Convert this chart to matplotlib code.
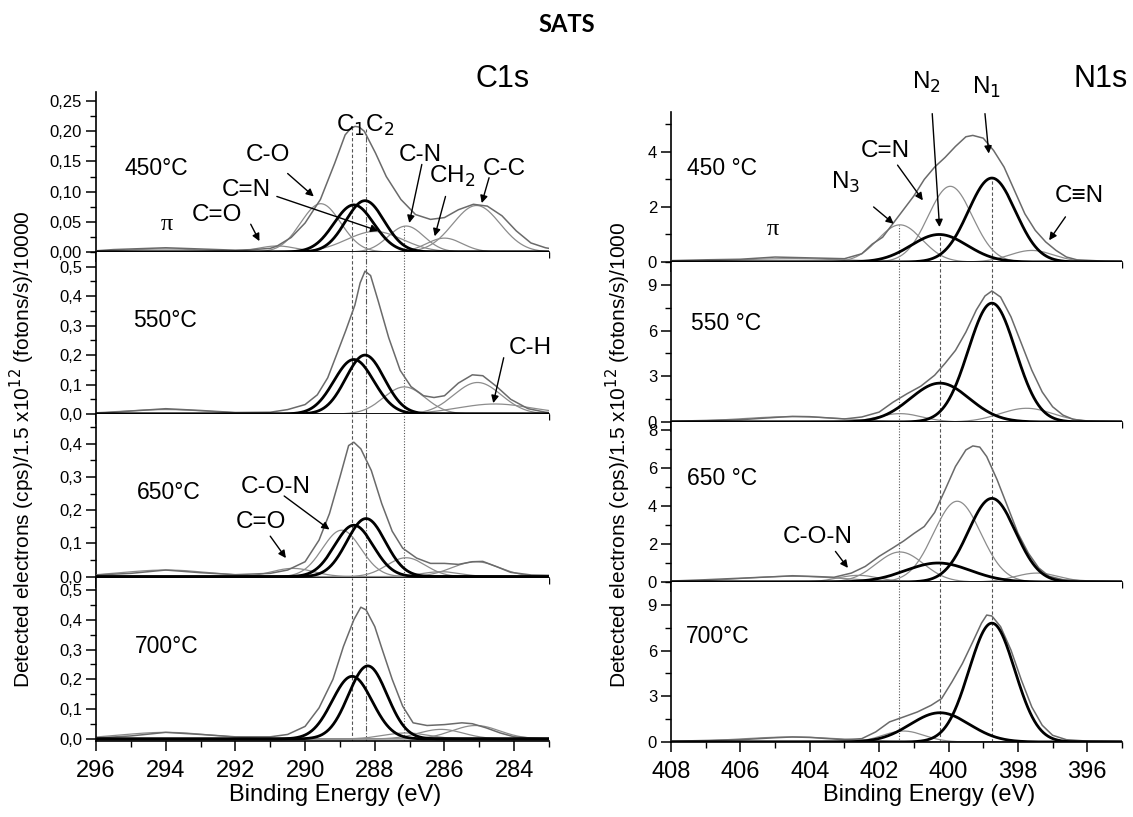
import numpy as np
import matplotlib
matplotlib.use("Agg")
import matplotlib.pyplot as plt
from matplotlib.ticker import MultipleLocator, FuncFormatter

plt.rcParams['font.family'] = ['Liberation Sans', 'DejaVu Sans']

c450_x = [296.0, 295.5, 295.0, 294.5, 294.0, 293.5, 293.0, 292.5, 292.0, 291.5, 291.0, 290.8, 290.4,
          290.0, 289.56, 289.15, 288.85, 288.7, 288.57, 288.45, 288.3, 287.98, 287.67, 287.25, 286.83,
          286.4, 286.0, 285.6, 285.17, 284.77, 284.35, 283.94, 283.52, 283.1, 283.0]
c450_y = [0.002, 0.004, 0.005, 0.006, 0.007, 0.006, 0.005, 0.004, 0.003, 0.004, 0.006, 0.010, 0.024,
          0.048, 0.087, 0.147, 0.194, 0.204, 0.208, 0.207, 0.200, 0.164, 0.125, 0.087, 0.062,
          0.054, 0.057, 0.070, 0.079, 0.076, 0.060, 0.035, 0.015, 0.007, 0.006]
c550_x = [296, 295, 294, 293, 292, 291, 290.5, 290.0, 289.65, 289.35, 289.1, 288.83, 288.57, 288.42,
          288.28, 288.12, 287.9, 287.6, 287.27, 286.96, 286.6, 286.3, 286.0, 285.6, 285.2, 284.9,
          284.5, 284.1, 283.6, 283.1, 283.0]
c550_y = [0.002, 0.010, 0.018, 0.012, 0.005, 0.006, 0.015, 0.032, 0.065, 0.123, 0.200, 0.284, 0.370,
          0.445, 0.485, 0.470, 0.383, 0.259, 0.148, 0.093, 0.062, 0.056, 0.062, 0.105, 0.133, 0.130,
          0.093, 0.050, 0.018, 0.006, 0.005]
c650_x = [296, 295, 294, 293, 292, 291, 290.5, 290.0, 289.6, 289.3, 289.0, 288.75, 288.6, 288.4, 288.1,
          287.8, 287.5, 287.2, 286.8, 286.4, 286.0, 285.6, 285.2, 284.9, 284.5, 284.1, 283.5, 283.0]
c650_y = [0.005, 0.010, 0.020, 0.012, 0.006, 0.010, 0.020, 0.045, 0.110, 0.190, 0.300, 0.395, 0.405,
          0.385, 0.320, 0.220, 0.137, 0.086, 0.056, 0.040, 0.040, 0.037, 0.045, 0.046, 0.030, 0.013,
          0.005, 0.004]
c700_x = [296, 295, 294, 293, 292, 291, 290.5, 290.0, 289.6, 289.2, 288.9, 288.6, 288.4, 288.25, 288.0,
          287.8, 287.5, 287.2, 286.9, 286.5, 286.0, 285.5, 285.2, 284.8, 284.4, 284.0, 283.5, 283.0]
c700_y = [0.003, 0.010, 0.022, 0.015, 0.007, 0.007, 0.015, 0.042, 0.104, 0.200, 0.310, 0.400, 0.442,
          0.433, 0.377, 0.305, 0.200, 0.110, 0.054, 0.045, 0.048, 0.054, 0.051, 0.037, 0.020, 0.007,
          0.003, 0.002]

# fitted components: centre (eV), height, fwhm (eV), bold (C1, C2)
c450_cen = [294.0, 290.8, 289.55, 288.6, 288.28, 288.0, 287.1, 286.0, 285.08]
c450_amp = [0.005, 0.010, 0.080, 0.078, 0.085, 0.034, 0.043, 0.023, 0.077]
c450_fwhm = [3.0, 1.3, 1.35, 1.35, 1.3, 1.9, 1.2, 1.2, 1.6]
c450_bold = [0, 0, 0, 1, 1, 0, 0, 0, 0]
c550_cen = [294.0, 288.6, 288.28, 287.15, 285.05, 284.55]
c550_amp = [0.015, 0.185, 0.200, 0.092, 0.107, 0.034]
c550_fwhm = [3.0, 1.35, 1.3, 1.4, 1.6, 2.5]
c550_bold = [0, 1, 1, 0, 0, 0]
c650_cen = [294.0, 290.35, 288.95, 288.6, 288.25, 287.1, 286.1, 285.1]
c650_amp = [0.02, 0.025, 0.14, 0.155, 0.175, 0.057, 0.015, 0.045]
c650_fwhm = [3.0, 1.4, 1.3, 1.3, 1.3, 1.3, 1.3, 1.6]
c650_bold = [0, 0, 0, 1, 1, 0, 0, 0]
c700_cen = [294.0, 288.65, 288.2, 287.1, 286.1, 285.1]
c700_amp = [0.022, 0.21, 0.245, 0.02, 0.032, 0.045]
c700_fwhm = [3.0, 1.35, 1.3, 1.5, 1.5, 1.6]
c700_bold = [0, 1, 1, 0, 0, 0]

# ---------------- N1s measured spectra ----------------
n450_x = [408, 407, 406, 405, 404, 403, 402.5, 402.2, 401.9, 401.6, 401.3, 401.0, 400.7, 400.4, 400.1,
          399.8, 399.5, 399.3, 399.0, 398.7, 398.4, 398.1, 397.8, 397.5, 397.2, 396.9, 396.6, 396.3,
          395.5, 395.0]
n450_y = [0.05, 0.08, 0.10, 0.18, 0.15, 0.12, 0.30, 0.65, 0.90, 1.40, 1.90, 2.40, 3.00, 3.45, 3.80,
          4.20, 4.55, 4.60, 4.50, 4.05, 3.45, 2.60, 1.75, 1.15, 0.73, 0.42, 0.18, 0.08, 0.03, 0.02]
n550_x = [408, 407, 406, 405, 404.5, 404, 403, 402.5, 402.0, 401.6, 401.2, 400.8, 400.4, 400.1, 399.8,
          399.5, 399.2, 398.95, 398.75, 398.5, 398.2, 397.9, 397.6, 397.3, 397.0, 396.7, 396.4, 396.0,
          395.0]
n550_y = [0.05, 0.10, 0.15, 0.30, 0.37, 0.35, 0.20, 0.33, 0.65, 1.30, 1.85, 2.35, 3.07, 3.85, 4.70,
          5.90, 7.35, 8.27, 8.60, 8.20, 6.90, 5.15, 3.40, 1.97, 1.00, 0.45, 0.17, 0.07, 0.03]
n650_x = [408, 407, 406, 405, 404.5, 404, 403.3, 402.8, 402.4, 402.0, 401.6, 401.3, 401.0, 400.7, 400.4,
          400.1, 399.8, 399.5, 399.3, 399.1, 398.9, 398.6, 398.3, 398.0, 397.7, 397.4, 397.1, 396.7,
          396.0, 395.0]
n650_y = [0.05, 0.12, 0.20, 0.28, 0.33, 0.30, 0.25, 0.47, 0.82, 1.35, 1.80, 2.15, 2.55, 2.92, 3.66,
          4.85, 6.08, 6.95, 7.16, 7.10, 6.60, 5.38, 3.98, 2.57, 1.52, 0.74, 0.30, 0.12, 0.06, 0.03]
n700_x = [408, 407, 406, 405, 404.5, 404, 403, 402.5, 402.1, 401.7, 401.3, 400.9, 400.5, 400.2, 399.9,
          399.6, 399.3, 399.05, 398.9, 398.75, 398.5, 398.2, 397.9, 397.6, 397.3, 397.0, 396.6, 396.0,
          395.0]
n700_y = [0.05, 0.10, 0.15, 0.28, 0.33, 0.30, 0.15, 0.22, 0.66, 1.32, 1.64, 1.97, 2.41, 2.85, 3.95,
          5.15, 6.58, 7.80, 8.33, 8.27, 7.57, 6.03, 4.06, 2.30, 1.10, 0.44, 0.15, 0.06, 0.03]

n450_cen = [404.5, 401.4, 400.27, 399.95, 398.75, 397.6]
n450_amp = [0.12, 1.35, 1.0, 2.75, 3.05, 0.42]
n450_fwhm = [4.0, 1.5, 1.9, 1.5, 1.6, 1.5]
n450_bold = [0, 0, 1, 0, 1, 0]
n550_cen = [404.5, 401.4, 400.25, 398.75, 397.75]
n550_amp = [0.35, 0.55, 2.55, 7.8, 0.9]
n550_fwhm = [3.5, 1.5, 2.0, 1.6, 1.8]
n550_bold = [0, 0, 1, 1, 0]
n650_cen = [404.5, 402.6, 401.4, 400.3, 399.75, 398.75, 397.45]
n650_amp = [0.3, 0.35, 1.58, 1.0, 4.25, 4.4, 0.47]
n650_fwhm = [3.5, 1.4, 1.6, 2.2, 1.6, 1.6, 1.5]
n650_bold = [0, 0, 0, 1, 0, 1, 0]
n700_cen = [404.5, 401.3, 400.25, 398.75]
n700_amp = [0.33, 0.72, 1.92, 7.8]
n700_fwhm = [3.5, 1.4, 2.0, 1.55]
n700_bold = [0, 0, 1, 1]

# reference lines (eV) and where they start in the top panel
c_vlines = [288.66, 288.26, 287.15]
c_vtop = [0.205, 0.203, 0.043]
n_vlines = [401.42, 400.26, 398.76]
n_vtop = [1.35, 1.0, 3.05]
c_temps = ['450°C', '550°C', '650°C', '700°C']
n_temps = ['450 °C', '550 °C', '650 °C', '700°C']

W, H = 1133, 817
fig = plt.figure(figsize=(W / 100, H / 100), dpi=100)


def rect(x0, x1, top, bot):
    return [x0 / W, 1 - bot / H, (x1 - x0) / W, (bot - top) / H]


def gauss(x, c, a, w):
    return a * np.exp(-4 * np.log(2) * (x - c) ** 2 / w ** 2)


GREY = '#8c8c8c'
VSTY = {'dash': (0, (3, 2)), 'dashdot': (0, (5, 1.5, 1, 1.5)), 'dot': (0, (1, 1.5))}


def panel(r, xlim, ylim, mx, my, cen, amp, fwhm, bold, vl, vst, vtop, ymaj, fmt, last):
    ax = fig.add_axes(r)
    xs = np.linspace(min(xlim), max(xlim), 800)
    for c, a, w, b in zip(cen, amp, fwhm, bold):
        if b:
            ax.plot(xs, gauss(xs, c, a, w), color='black', lw=2.0, zorder=4)
        else:
            ax.plot(xs, gauss(xs, c, a, w), color=GREY, lw=0.9, zorder=2)
    ax.plot(mx, my, color='#6a6a6a', lw=1.1, zorder=3)
    for i, v in enumerate(vl):
        top = vtop[i] if vtop is not None else ylim[1]
        ax.plot([v, v], [ylim[0], top], color='#555555', lw=0.8, ls=VSTY[vst[i]], zorder=1)
    ax.set_xlim(*xlim)
    ax.set_ylim(*ylim)
    for s in ('top', 'right'):
        ax.spines[s].set_visible(False)
    for s in ('left', 'bottom'):
        ax.spines[s].set_linewidth(1.2)
    ax.xaxis.set_major_locator(MultipleLocator(2))
    ax.xaxis.set_minor_locator(MultipleLocator(1))
    ax.yaxis.set_major_locator(MultipleLocator(ymaj))
    ax.yaxis.set_minor_locator(MultipleLocator(ymaj / 2))
    ax.yaxis.set_major_formatter(FuncFormatter(fmt))
    ax.tick_params(which='major', direction='out', length=7, width=1.1)
    ax.tick_params(which='minor', direction='out', length=4, width=1.0)
    ax.tick_params(axis='y', labelsize=12, pad=3)
    ax.tick_params(axis='x', labelsize=17, pad=7, labelbottom=last)
    return ax


f2 = lambda v, p: ('%.2f' % v).replace('.', ',')
f1 = lambda v, p: ('%.1f' % v).replace('.', ',')
fi = lambda v, p: '%d' % round(v)

c_rows = [(92, 252), (252, 414), (414, 578), (578, 741)]
n_rows = [(112, 262), (262, 422), (422, 582), (582, 742)]
c_ylims = [(0, 0.265), (0, 0.55), (-0.004, 0.49), (-0.007, 0.54)]
n_ylims = [(0, 5.45), (0, 10.5), (0, 8.42), (0, 10.5)]
c_ymaj = [0.05, 0.1, 0.1, 0.1]
n_ymaj = [2, 3, 2, 3]
c_data = [(c450_x, c450_y, c450_cen, c450_amp, c450_fwhm, c450_bold),
          (c550_x, c550_y, c550_cen, c550_amp, c550_fwhm, c550_bold),
          (c650_x, c650_y, c650_cen, c650_amp, c650_fwhm, c650_bold),
          (c700_x, c700_y, c700_cen, c700_amp, c700_fwhm, c700_bold)]
n_data = [(n450_x, n450_y, n450_cen, n450_amp, n450_fwhm, n450_bold),
          (n550_x, n550_y, n550_cen, n550_amp, n550_fwhm, n550_bold),
          (n650_x, n650_y, n650_cen, n650_amp, n650_fwhm, n650_bold),
          (n700_x, n700_y, n700_cen, n700_amp, n700_fwhm, n700_bold)]
c_temp_pos = [(295.19, 0.128), (294.93, 0.296), (294.82, 0.233), (294.875, 0.288)]
n_temp_pos = [(407.53, 3.15), (407.42, 6.03), (407.53, 5.11), (407.58, 6.47)]

cax, nax = [], []
for i in range(4):
    a = panel(rect(96, 549, *c_rows[i]), (296, 283), c_ylims[i], *c_data[i],
              c_vlines, ['dash', 'dashdot', 'dot'], c_vtop if i == 0 else None,
              c_ymaj[i], f2 if i == 0 else f1, i == 3)
    a.text(*c_temp_pos[i], c_temps[i], fontsize=16.5, ha='left', va='baseline')
    cax.append(a)
    b = panel(rect(671, 1122, *n_rows[i]), (408, 395), n_ylims[i], *n_data[i],
              n_vlines, ['dot', 'dash', 'dash'], n_vtop if i == 0 else None,
              n_ymaj[i], fi, i == 3)
    b.text(*n_temp_pos[i], n_temps[i], fontsize=16.5, ha='left', va='baseline')
    nax.append(b)

# ---------------- labels and arrows ----------------
AP = dict(arrowstyle='-|>', color='black', lw=1.0, mutation_scale=11, shrinkA=0, shrinkB=0)


def labels(ax, txt, tx, ty, size=17.5):
    for t, x, y in zip(txt, tx, ty):
        fam = ['Liberation Serif', 'DejaVu Serif'] if t == 'π' else ['Liberation Sans', 'DejaVu Sans']
        ax.text(x, y, t, fontsize=size, ha='center', va='baseline', family=fam, clip_on=False)


def arrows(ax, x0, y0, x1, y1):
    for a0, b0, a1, b1 in zip(x0, y0, x1, y1):
        ax.annotate('', xy=(a1, b1), xytext=(a0, b0), arrowprops=AP)


labels(cax[0], ['C-O', 'C=N', 'C=O', 'π', 'C-N', 'CH$_2$', 'C-C', 'C$_1$C$_2$'],
       [291.07, 291.70, 292.53, 293.97, 286.70, 285.79, 284.28, 288.29],
       [0.150, 0.092, 0.051, 0.037, 0.150, 0.114, 0.128, 0.199])
arrows(cax[0], [290.5, 290.81, 291.56, 286.65, 285.97, 284.72],
       [0.130, 0.092, 0.046, 0.145, 0.092, 0.123],
       [289.75, 287.9, 291.31, 287.01, 286.28, 284.93],
       [0.092, 0.035, 0.018, 0.048, 0.026, 0.081])
labels(cax[0], ['C1s'], [284.33], [0.274], size=22)

labels(cax[1], ['C-H'], [283.55], [0.204])
arrows(cax[1], [284.3], [0.191], [284.6], [0.037])

labels(cax[2], ['C-O-N', 'C=O'], [290.84, 291.28], [0.253, 0.147])
arrows(cax[2], [290.6, 291.0], [0.243, 0.122], [289.3, 290.55], [0.142, 0.056])

labels(nax[0], ['N$_2$', 'N$_1$', 'C=N', 'N$_3$', 'π', 'C≡N'],
       [400.63, 398.9, 401.82, 402.98, 405.05, 396.24],
       [6.30, 6.12, 3.82, 2.67, 0.97, 2.18])
arrows(nax[0], [400.47, 398.95, 401.47, 402.16, 396.63],
       [5.39, 5.39, 3.52, 2.0, 1.64],
       [400.26, 398.84, 400.74, 401.58, 397.1],
       [1.27, 3.94, 2.24, 1.39, 0.79])
labels(nax[0], ['N1s'], [395.63], [6.36], size=22)

labels(nax[2], ['C-O-N'], [403.77], [2.05])
arrows(nax[2], [403.26], [1.61], [402.9], [0.74])

# axis titles
for ax, xc in ((cax[3], 289.15), (nax[3], 400.56)):
    ax.text(xc, -0.33, 'Binding Energy (eV)', fontsize=17, ha='center', va='center',
            transform=ax.get_xaxis_transform())
ylab = 'Detected electrons (cps)/1.5 x10$^{12}$ (fotons/s)/'
fig.text(22 / W, 1 - 449 / H, ylab + '10000', rotation=90, fontsize=15, ha='center', va='center')
fig.text(618 / W, 1 - 455 / H, ylab + '1000', rotation=90, fontsize=15, ha='center', va='center')
fig.text(0.5, 1 - 25 / H, 'SATS', fontsize=17, fontweight='bold', ha='center', va='center',
         family=['Lato', 'DejaVu Sans'])

fig.savefig('out.png', dpi=100)
